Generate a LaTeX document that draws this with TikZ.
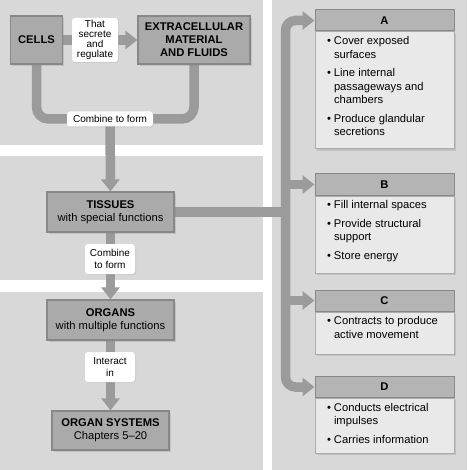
\documentclass[tikz,border=0pt]{standalone}
\usepackage{fontspec}
\setmainfont{Liberation Sans}
\usetikzlibrary{positioning}
\usetikzlibrary{shadows}
\usetikzlibrary{arrows.meta}
\usetikzlibrary{backgrounds}
\definecolor{panelgray}{RGB}{216,216,216}
\definecolor{boxgray}{RGB}{170,170,170}
\definecolor{boxedge}{RGB}{136,136,136}
\definecolor{flowgray}{RGB}{155,155,155}
\definecolor{headgray}{RGB}{180,180,180}
\definecolor{bodygray}{RGB}{233,233,233}
\pgfdeclarelayer{lines}
\pgfsetlayers{background,lines,main}

\newcommand{\bul}[1]{\hangindent=7pt\hangafter=1\noindent\makebox[7pt][l]{\textbullet}#1\par\vspace{5pt}}
\newcommand{\listbody}[2]{\begin{minipage}[c][#1][t]{123pt}\raggedright\leftskip=4pt
  \fontsize{11.2}{13.5}\selectfont #2\end{minipage}}

\tikzset{
  levelbox/.style={draw=boxedge,fill=boxgray,line width=1.2pt,align=center,inner sep=0pt,
    font=\fontsize{11.2}{13}\selectfont,
    drop shadow={shadow xshift=1.5pt,shadow yshift=-2pt,opacity=0.25}},
  tag/.style={fill=white,rounded corners=3pt,align=center,inner sep=0pt,
    font=\fontsize{10}{11.5}\selectfont,
    drop shadow={shadow xshift=1pt,shadow yshift=-1pt,opacity=0.15}},
  headbox/.style={draw=boxedge,fill=headgray,line width=1pt,inner sep=0pt,
    minimum width=139pt,minimum height=21pt,font=\fontsize{11.2}{13}\selectfont\bfseries},
  listbox/.style={draw=boxedge!70,fill=bodygray,line width=0.6pt,inner xsep=0pt,inner ysep=5pt,
    minimum width=139pt,
    drop shadow={shadow xshift=1.5pt,shadow yshift=-2pt,opacity=0.25}},
  flow/.style={draw=flowgray,line width=9.5pt},
  tip/.style={-{Triangle[length=12pt,width=18pt]}}
}

\begin{document}
\begin{tikzpicture}[x=1pt,y=-1pt]
  \useasboundingbox (0,0) rectangle (467,470);

  % left column
  \node[levelbox,minimum width=52pt,minimum height=48pt] (cells) at (36.5,40) {\textbf{CELLS}};
  \node[levelbox,minimum width=112pt,minimum height=48pt] (extra) at (194,40)
    {\textbf{EXTRACELLULAR}\\\textbf{MATERIAL}\\\textbf{AND FLUIDS}};
  \node[tag,minimum width=46pt,minimum height=44pt,font=\fontsize{10}{10}\selectfont] (secrete) at (95,40)
    {That\\secrete\\and\\regulate};
  \node[tag,minimum width=86pt,minimum height=15pt] (combine1) at (110,119) {Combine to form};
  \node[levelbox,minimum width=127pt,minimum height=40pt] (tissues) at (110.5,212)
    {\textbf{TISSUES}\\with special functions};
  \node[tag,minimum width=50pt,minimum height=30pt] (combine2) at (110,259) {Combine\\to form};
  \node[levelbox,minimum width=127pt,minimum height=40pt] (organs) at (110.5,320)
    {\textbf{ORGANS}\\with multiple functions};
  \node[tag,minimum width=50pt,minimum height=30pt] (interact) at (110,367) {Interact\\in};
  \node[levelbox,minimum width=117pt,minimum height=39pt] (systems) at (110.5,430.5)
    {\textbf{ORGAN SYSTEMS}\\Chapters 5\textendash 20};

  % right column
  \node[headbox] (ahead) at (384.5,20.5) {A};
  \node[listbox,below=0pt of ahead] (abody) {\listbody{107pt}{%
    \bul{Cover exposed\newline surfaces}
    \bul{Line internal\newline passageways and\newline chambers}
    \bul{Produce glandular\newline secretions}}};
  \node[headbox] (bhead) at (384.5,184.5) {B};
  \node[listbox,below=0pt of bhead] (bbody) {\listbody{67pt}{%
    \bul{Fill internal spaces}
    \bul{Provide structural\newline support}
    \bul{Store energy}}};
  \node[headbox] (chead) at (384.5,300.5) {C};
  \node[listbox,below=0pt of chead] (cbody) {\listbody{32pt}{%
    \bul{Contracts to produce\newline active movement}}};
  \node[headbox] (dhead) at (384.5,387) {D};
  \node[listbox,below=0pt of dhead] (dbody) {\listbody{45pt}{%
    \bul{Conducts electrical\newline impulses}
    \bul{Carries information}}};

  \coordinate (trunk) at (285.5,0);

  \begin{pgfonlayer}{lines}
    \draw[flow,tip] (cells) -- (extra);
    \draw[flow,rounded corners=12pt] (cells.south) |- (combine1.center) -| (extra.south);
    \draw[flow,tip] (combine1.center) -- (tissues.north);
    \draw[flow,tip] (tissues) -- (organs);
    \draw[flow,tip] (organs) -- (systems);
    \draw[flow] (tissues.east) -- (tissues.east -| trunk);
    \draw[flow,tip,rounded corners=10pt] (tissues.east -| trunk) |- (ahead.west);
    \draw[flow,tip,rounded corners=10pt] (tissues.east -| trunk) |- (dhead.west);
    \draw[flow,tip] (bhead.west -| trunk) -- (bhead.west);
    \draw[flow,tip] (chead.west -| trunk) -- (chead.west);
  \end{pgfonlayer}

  \begin{scope}[on background layer]
    \fill[white] (0,0) rectangle (467,470);
    \fill[panelgray] (0,0) rectangle (263,145);
    \fill[panelgray] (0,156) rectangle (263,280);
    \fill[panelgray] (0,292) rectangle (263,470);
    \fill[panelgray] (272,0) rectangle (467,470);
  \end{scope}
\end{tikzpicture}
\end{document}
